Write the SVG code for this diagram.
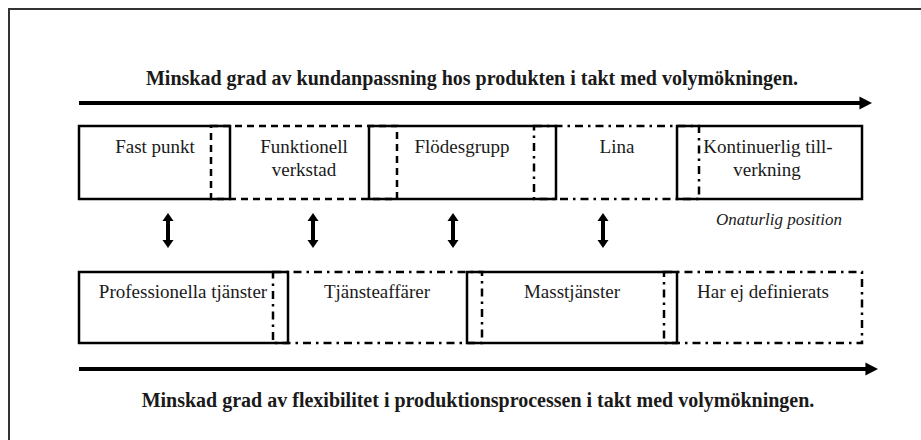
<svg xmlns="http://www.w3.org/2000/svg" width="921" height="440" viewBox="0 0 921 440">
  <style>
    text { font-family: "Liberation Serif", "Times New Roman", serif; fill: #1a1a1a; text-anchor: middle; }
    .head { font-size: 20px; font-weight: bold; }
    .lbl { font-size: 19px; }
    .note { font-size: 17px; font-style: italic; }
    .solid { fill: none; stroke: #000; stroke-width: 2.5; }
    .dash { fill: none; stroke: #000; stroke-width: 2.5; stroke-dasharray: 7 5; }
    .dashdot { fill: none; stroke: #000; stroke-width: 2.5; stroke-dasharray: 8 5 2.5 5; }
    .axis { stroke: #000; stroke-width: 4; fill: none; }
  </style>
  <defs>
    <marker id="axisHead" viewBox="0 0 10 10" refX="2" refY="5" markerWidth="3.2" markerHeight="3.4" orient="auto" markerUnits="strokeWidth">
      <path d="M0,0 L10,5 L0,10 z" fill="#000"/>
    </marker>
    <!-- double-headed vertical arrow, drawn around its centre -->
    <path id="dblArrow" d="M0,-17.5 L5.5,-9.5 L2,-9.5 L2,9.5 L5.5,9.5 L0,17.5 L-5.5,9.5 L-2,9.5 L-2,-9.5 L-5.5,-9.5 z" fill="#000"/>
  </defs>

  <rect width="921" height="440" fill="#fff"/>
  <!-- outer frame -->
  <rect x="9" y="9" width="940" height="460" fill="none" stroke="#333" stroke-width="2"/>

  <!-- headings -->
  <text class="head" x="472" y="85">Minskad grad av kundanpassning hos produkten i takt med volymökningen.</text>
  <text class="head" x="478" y="407">Minskad grad av flexibilitet i produktionsprocessen i takt med volymökningen.</text>

  <g id="connectors">
    <line class="axis" x1="79" y1="103" x2="862" y2="103" marker-end="url(#axisHead)"/>
    <line class="axis" x1="79" y1="369" x2="868" y2="369" marker-end="url(#axisHead)"/>
    <use href="#dblArrow" x="168" y="230.5"/>
    <use href="#dblArrow" x="313" y="230.5"/>
    <use href="#dblArrow" x="453" y="230.5"/>
    <use href="#dblArrow" x="603" y="230.5"/>
  </g>

  <!-- manufacturing processes (top row) -->
  <g id="fast-punkt">
    <rect class="solid" x="79" y="126" width="151" height="73"/>
    <text class="lbl" x="155" y="153">Fast punkt</text>
  </g>
  <g id="funktionell-verkstad">
    <rect class="dash" x="211" y="126" width="186" height="73"/>
    <text class="lbl" x="304" y="153">Funktionell</text>
    <text class="lbl" x="304" y="176">verkstad</text>
  </g>
  <g id="flodesgrupp">
    <rect class="solid" x="369" y="126" width="187" height="73"/>
    <text class="lbl" x="462" y="153">Flödesgrupp</text>
  </g>
  <g id="lina">
    <rect class="dashdot" x="534" y="126" width="165" height="73"/>
    <text class="lbl" x="617" y="153">Lina</text>
  </g>
  <g id="kontinuerlig-tillverkning">
    <rect class="solid" x="677" y="126" width="185" height="73"/>
    <text class="lbl" x="768" y="153">Kontinuerlig till-</text>
    <text class="lbl" x="767" y="176">verkning</text>
  </g>
  <g id="onaturlig-position">
    <text class="note" x="779" y="225">Onaturlig position</text>
  </g>

  <!-- service processes (bottom row) -->
  <g id="professionella-tjanster">
    <rect class="solid" x="79" y="272" width="209" height="71"/>
    <text class="lbl" x="183" y="298">Professionella tjänster</text>
  </g>
  <g id="tjansteaffarer">
    <rect class="dashdot" x="273" y="272" width="209" height="71"/>
    <text class="lbl" x="377" y="298">Tjänsteaffärer</text>
  </g>
  <g id="masstjanster">
    <rect class="solid" x="467" y="272" width="210" height="71"/>
    <text class="lbl" x="572" y="298">Masstjänster</text>
  </g>
  <g id="har-ej-definierats">
    <rect class="dashdot" x="664" y="272" width="198" height="71"/>
    <text class="lbl" x="763" y="298">Har ej definierats</text>
  </g>
</svg>
